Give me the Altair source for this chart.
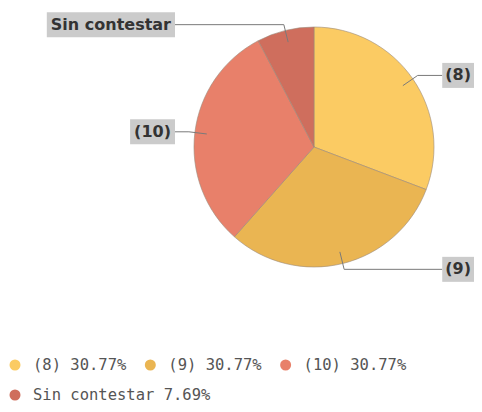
import math
import altair as alt
import pandas as pd

# ---- data ----
categories = ["(8)", "(9)", "(10)", "Sin contestar"]
counts = [4, 4, 4, 1]
colors = ["#FBCB63", "#EAB552", "#E8806A", "#CF6E5D"]

# ---- layout ----
W, H = 466, 396
CX, CY, R = 306, 139, 120
LEFT_X = 167
FONT_SIZE = 16
PAD = 3
LEG_FONT = 15.5
LEG_CHAR = 0.602 * LEG_FONT  # DejaVu Sans Mono advance
LEG_X0, LEG_Y0, LEG_ROW = 7, 357, 30
LEG_AVAIL = 466

# approximate DejaVu Sans Bold advance widths (em)
CW = {"(": 0.457, ")": 0.457, "8": 0.696, "9": 0.696, "1": 0.696, "0": 0.696,
      "S": 0.72, "i": 0.343, "n": 0.712, " ": 0.348, "c": 0.593, "o": 0.687,
      "t": 0.478, "e": 0.678, "s": 0.595, "a": 0.675, "r": 0.493}


def text_w(s):
    return sum(CW.get(ch, 0.65) for ch in s) * FONT_SIZE


total = sum(counts)
legend_labels = [f"{c} {v / total * 100:.2f}%" for c, v in zip(categories, counts)]

pie_df = pd.DataFrame({"cat": categories, "value": counts,
                       "legend": legend_labels, "idx": list(range(len(categories)))})

# right-side boxes end at the chart's right edge
right_w = max(text_w(c) for c in categories[:2]) + 2 * PAD
RIGHT_X = W - right_w

# leader lines and label boxes
line_rows, box_rows = [], []
acc = 0
for i, (c, v) in enumerate(zip(categories, counts)):
    a = (acc + v / 2) / total * 2 * math.pi
    acc += v
    s, co = math.sin(a), math.cos(a)
    ix, iy = CX + 0.9 * R * s, CY - 0.9 * R * co
    ox, oy = CX + 1.05 * R * s, CY - 1.05 * R * co
    tw = text_w(c)
    if s > 0:
        ex = RIGHT_X
        bx1, bx2, tx, al = ex, ex + tw + 2 * PAD, ex + PAD, "left"
    else:
        ex = LEFT_X
        bx1, bx2, tx, al = ex - tw - 2 * PAD - 2, ex, ex - PAD - 1, "right"
    for k, (px, py) in enumerate([(ix, iy), (ox, oy), (ex, oy)]):
        line_rows.append({"cat": c, "k": k, "x": px, "y": py})
    box_rows.append({"cat": c, "x1": bx1, "x2": bx2, "y1": oy - 12.5, "y2": oy + 12.5,
                     "tx": tx, "ty": oy, "align": al})

lines_df = pd.DataFrame(line_rows)
boxes_df = pd.DataFrame(box_rows)

# flowing legend (wraps to a new row when the entry would not fit)
leg_rows = []
x, row = LEG_X0, 0
for lab in legend_labels:
    lw = len(lab) * LEG_CHAR
    if x + 18 + lw > LEG_AVAIL:
        x, row = LEG_X0, row + 1
    leg_rows.append({"legend": lab, "sx": x, "lx": x + 18, "y": LEG_Y0 + row * LEG_ROW})
    x = x + 18 + lw + 24
leg_df = pd.DataFrame(leg_rows)

xs = alt.Scale(domain=[0, W], range=[0, W])
ys = alt.Scale(domain=[0, H], range=[0, H])
cs = alt.Scale(domain=legend_labels, range=colors)

pie = alt.Chart(pie_df).mark_arc(radius=R, stroke="#9a8a7a", strokeWidth=0.6).encode(
    theta=alt.Theta("value:Q", stack=True),
    order=alt.Order("idx:Q", sort="ascending"),
    color=alt.Color("legend:N", scale=cs, legend=None),
    x=alt.value(CX),
    y=alt.value(CY),
)

leaders = alt.Chart(lines_df).mark_line(color="#7a7a7a", strokeWidth=1).encode(
    x=alt.X("x:Q", scale=xs, axis=None),
    y=alt.Y("y:Q", scale=ys, axis=None),
    detail="cat:N",
    order="k:Q",
)

boxes = alt.Chart(boxes_df).mark_rect(color="#CBCBCB").encode(
    x=alt.X("x1:Q", scale=xs, axis=None), x2="x2:Q",
    y=alt.Y("y1:Q", scale=ys, axis=None), y2="y2:Q",
)

texts_r = alt.Chart(boxes_df[boxes_df["align"] == "left"]).mark_text(
    align="left", baseline="middle", font="DejaVu Sans", fontWeight="bold",
    fontSize=FONT_SIZE, color="#333333").encode(
    x=alt.X("tx:Q", scale=xs, axis=None), y=alt.Y("ty:Q", scale=ys, axis=None), text="cat:N")

texts_l = alt.Chart(boxes_df[boxes_df["align"] == "right"]).mark_text(
    align="right", baseline="middle", font="DejaVu Sans", fontWeight="bold",
    fontSize=FONT_SIZE, color="#333333").encode(
    x=alt.X("tx:Q", scale=xs, axis=None), y=alt.Y("ty:Q", scale=ys, axis=None), text="cat:N")

leg_sym = alt.Chart(leg_df).mark_point(shape="circle", filled=True, size=121, opacity=1).encode(
    x=alt.X("sx:Q", scale=xs, axis=None), y=alt.Y("y:Q", scale=ys, axis=None),
    color=alt.Color("legend:N", scale=cs, legend=None),
)

leg_txt = alt.Chart(leg_df).mark_text(
    align="left", baseline="middle", font="DejaVu Sans Mono", fontSize=LEG_FONT,
    color="#555555").encode(
    x=alt.X("lx:Q", scale=xs, axis=None), y=alt.Y("y:Q", scale=ys, axis=None), text="legend:N")

chart = alt.layer(pie, leaders, boxes, texts_r, texts_l, leg_sym, leg_txt).properties(
    width=W, height=H, autosize=alt.AutoSizeParams(type="none"), padding=0,
).configure_view(stroke=None)

chart.save("out.html", embed_options={"renderer": "svg", "actions": False})
